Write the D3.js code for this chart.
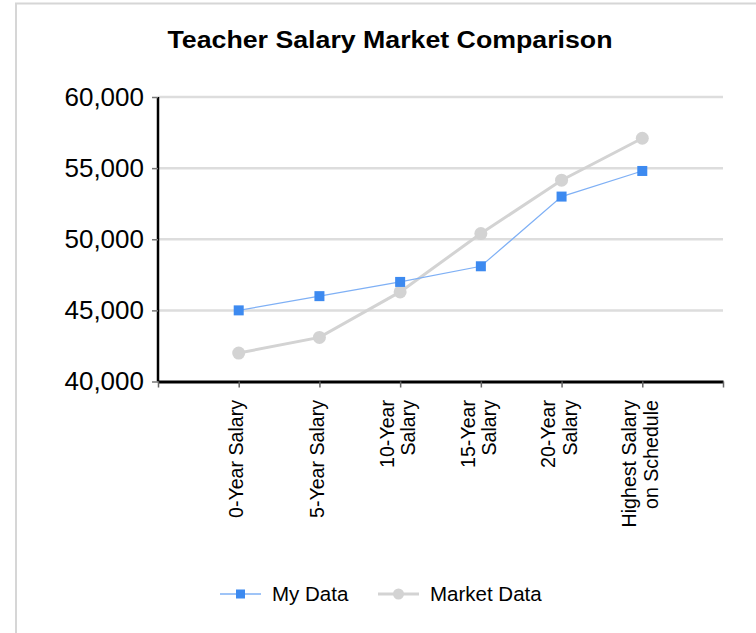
<!DOCTYPE html>
<html>
<head>
<meta charset="utf-8">
<script src="https://cdn.jsdelivr.net/npm/d3@7"></script>
<style>
  body { margin: 0; background: #fff; }
  svg { display: block; font-family: "Liberation Sans", Arial, sans-serif; }
</style>
</head>
<body>
<script>
// chart values
var categories = [["0-Year Salary"], ["5-Year Salary"], ["10-Year", "Salary"],
                  ["15-Year", "Salary"], ["20-Year", "Salary"], ["Highest Salary", "on Schedule"]];
var myData = [45000, 46000, 47000, 48100, 53000, 54800];
var marketData = [42000, 43100, 46300, 50400, 54150, 57100];
var yTicks = [40000, 45000, 50000, 55000, 60000];
var seriesNames = ["My Data", "Market Data"];

function main(){
    var canvasWidth = 756;
    var canvasHeight = 633;

    var svg = d3.select("body").append("svg")
        .attr("width", canvasWidth)
        .attr("height", canvasHeight);

    // outer frame
    svg.append("rect")
        .attr("x", 16).attr("y", 3.5)
        .attr("width", 800).attr("height", 700)
        .attr("fill", "none")
        .attr("stroke", "#d6d6d6")
        .attr("stroke-width", 2);

    // title
    svg.append("text")
        .attr("x", 390)
        .attr("y", 48)
        .attr("text-anchor", "middle")
        .attr("font-size", "23px")
        .attr("font-weight", "bold")
        .attr("textLength", 445)
        .attr("lengthAdjust", "spacingAndGlyphs")
        .text("Teacher Salary Market Comparison");

    var left = 158, right = 723, top = 97, bottom = 381.5;

    // one empty slot before the first point, one after the last
    var xScale = d3.scaleLinear().domain([-1, categories.length]).range([left, right]);
    var yScale = d3.scaleLinear().domain([40000, 60000]).range([bottom, top]);

    // gridlines
    svg.append("g")
        .selectAll("line")
        .data(yTicks.slice(1))
        .enter().append("line")
        .attr("x1", left).attr("x2", right)
        .attr("y1", d => yScale(d)).attr("y2", d => yScale(d))
        .attr("stroke", "#dddddd")
        .attr("stroke-width", 2.5);

    // y axis
    var yAxis = svg.append("g")
        .attr("transform", "translate(" + left + ",0)")
        .call(d3.axisLeft(yScale).tickValues(yTicks).tickFormat(d3.format(",")).tickSize(6).tickPadding(8));
    yAxis.select(".domain").attr("stroke", "#000").attr("stroke-width", 2.5).attr("d", "M0," + top + "V" + bottom);
    yAxis.selectAll(".tick line").attr("stroke", "#777").attr("stroke-width", 1.5);
    yAxis.selectAll(".tick text")
        .attr("font-size", "26px")
        .attr("font-family", "Liberation Sans, Arial, sans-serif")
        .attr("fill", "#000")
        .attr("dy", "0.32em");

    // x axis
    var xTickVals = d3.range(-1, categories.length + 1);
    var xAxis = svg.append("g")
        .attr("transform", "translate(0," + bottom + ")")
        .call(d3.axisBottom(xScale).tickValues(xTickVals).tickFormat("").tickSize(6).tickSizeOuter(0));
    xAxis.select(".domain").attr("stroke", "#000").attr("stroke-width", 3);
    xAxis.selectAll(".tick line").attr("stroke", "#666").attr("stroke-width", 1.5);

    // rotated category labels (baseline sits just right of the tick)
    var labels = svg.append("g")
        .selectAll("text")
        .data(categories)
        .enter().append("text")
        .attr("transform", (d, i) => "translate(" + xScale(i) + ",400) rotate(-90)")
        .attr("text-anchor", "end")
        .attr("font-size", "19.6px")
        .attr("fill", "#000");
    labels.each(function(d){
        var t = d3.select(this);
        var n = d.length;
        d.forEach(function(line, k){
            t.append("tspan")
                .attr("x", 0)
                .attr("y", 4.5 + (k - (n - 1) / 2) * 21.5)
                .text(line);
        });
    });

    var line = d3.line()
        .x((d, i) => xScale(i))
        .y(d => yScale(d));

    // market data series
    svg.append("path")
        .datum(marketData)
        .attr("d", line)
        .attr("fill", "none")
        .attr("stroke", "#d3d3d3")
        .attr("stroke-width", 3);
    svg.append("g")
        .selectAll("circle")
        .data(marketData)
        .enter().append("circle")
        .attr("cx", (d, i) => xScale(i))
        .attr("cy", d => yScale(d))
        .attr("r", 6.5)
        .attr("fill", "#d3d3d3");

    // my data series
    svg.append("path")
        .datum(myData)
        .attr("d", line)
        .attr("fill", "none")
        .attr("stroke", "#7fb0f5")
        .attr("stroke-width", 1.2);
    svg.append("g")
        .selectAll("rect")
        .data(myData)
        .enter().append("rect")
        .attr("x", (d, i) => xScale(i) - 5)
        .attr("y", d => yScale(d) - 5)
        .attr("width", 10)
        .attr("height", 10)
        .attr("fill", "#3d8af0");

    // legend
    var legend = svg.append("g").attr("transform", "translate(0,594)");
    var legendX = [220, 378];
    seriesNames.forEach(function(name, i){
        var g = legend.append("g").attr("transform", "translate(" + legendX[i] + ",0)");
        if (i === 0) {
            g.append("line").attr("x1", 0).attr("x2", 41).attr("y1", 0).attr("y2", 0)
                .attr("stroke", "#7fb0f5").attr("stroke-width", 1.5);
            g.append("rect").attr("x", 16).attr("y", -4.5).attr("width", 9).attr("height", 9)
                .attr("fill", "#3d8af0");
        } else {
            g.append("line").attr("x1", 0).attr("x2", 41).attr("y1", 0).attr("y2", 0)
                .attr("stroke", "#d3d3d3").attr("stroke-width", 3);
            g.append("circle").attr("cx", 20.5).attr("cy", 0).attr("r", 5.5)
                .attr("fill", "#d3d3d3");
        }
        g.append("text")
            .attr("x", 52)
            .attr("y", 0)
            .attr("dy", "0.35em")
            .attr("font-size", "20.5px")
            .attr("fill", "#000")
            .text(name);
    });
}
main();
</script>
</body>
</html>
